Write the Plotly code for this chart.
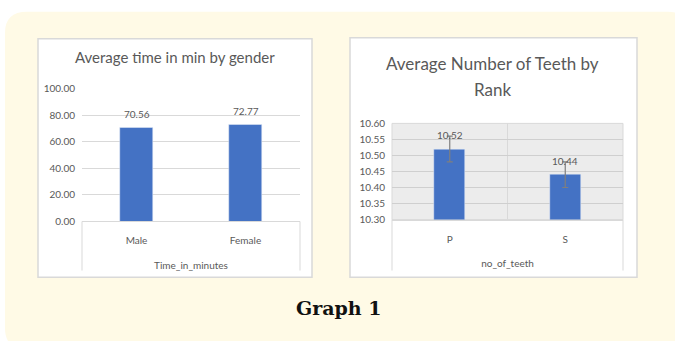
import plotly.graph_objects as go

W, H = 675, 341

# ---- data ----
gender_categories = ["Male", "Female"]
gender_time = [70.56, 72.77]
rank_categories = ["P", "S"]
rank_teeth = [10.52, 10.44]
rank_err = [0.04, 0.04]
left_ticks = [0, 20, 40, 60, 80, 100]
right_ticks = [10.30, 10.35, 10.40, 10.45, 10.50, 10.55, 10.60]

BAR = "#4472c4"
GRID = "#d9d9d9"
TXT = "#595959"
FONT = "Lato"


def px(x):
    return x / W


def py(y):
    return 1 - y / H


fig = go.Figure()

fig.add_trace(go.Bar(
    x=gender_categories, y=gender_time, marker_color=BAR, width=0.31,
    xaxis="x", yaxis="y", showlegend=False))

fig.add_trace(go.Bar(
    x=rank_categories, y=rank_teeth, marker_color=BAR, width=0.27,
    error_y=dict(type="data", array=rank_err, color="#7f7f7f", thickness=1.2, width=3),
    xaxis="x2", yaxis="y2", showlegend=False))

shapes = []
# cream rounded background
r = 22
x0, y0, x1, y1 = 5, 5, 690, 356
path = (f"M {px(x0 + r)} {py(y0)} L {px(x1 - r)} {py(y0)} "
        f"Q {px(x1)} {py(y0)} {px(x1)} {py(y0 + r)} L {px(x1)} {py(y1 - r)} "
        f"Q {px(x1)} {py(y1)} {px(x1 - r)} {py(y1)} L {px(x0 + r)} {py(y1)} "
        f"Q {px(x0)} {py(y1)} {px(x0)} {py(y1 - r)} L {px(x0)} {py(y0 + r)} "
        f"Q {px(x0)} {py(y0)} {px(x0 + r)} {py(y0)} Z")
shapes.append(dict(type="path", path=path, xref="paper", yref="paper",
                   fillcolor="#fffae6", line=dict(width=0), layer="below"))
# white panels
for (a, b, c, d) in [(38, 33, 312, 281), (350, 32, 637, 281)]:
    shapes.append(dict(type="rect", xref="paper", yref="paper",
                       x0=px(a), x1=px(c), y0=py(b), y1=py(d),
                       fillcolor="white", line=dict(color=GRID, width=1.5), layer="below"))
# hatched-looking plot area (right)
shapes.append(dict(type="rect", xref="x2 domain", yref="y2 domain", x0=0, x1=1, y0=0, y1=1,
                   fillcolor="#ececec", line=dict(color=GRID, width=1), layer="below"))
# middle vertical gridline right
shapes.append(dict(type="line", xref="x2 domain", yref="y2 domain", x0=0.5, x1=0.5, y0=0, y1=1,
                   line=dict(color=GRID, width=1), layer="below"))
# category axis box lines
for ax, (l, rr) in [("x", (82, 300)), ("x2", (392, 623))]:
    for xx in (l, rr):
        shapes.append(dict(type="line", xref="paper", yref="paper",
                           x0=px(xx), x1=px(xx), y0=py(223 if ax == "x" else 221), y1=py(274),
                           line=dict(color=GRID, width=1)))

annotations = [
    dict(text="Average time in min by gender", x=px(175), y=py(52), xref="paper", yref="paper",
         showarrow=False, font=dict(size=15, color=TXT, family=FONT), xanchor="center", yanchor="middle"),
    dict(text="Average Number of Teeth by", x=px(492), y=py(59), xref="paper", yref="paper",
         showarrow=False, font=dict(size=17, color=TXT, family=FONT), xanchor="center", yanchor="middle"),
    dict(text="Rank", x=px(492), y=py(86), xref="paper", yref="paper",
         showarrow=False, font=dict(size=17, color=TXT, family=FONT), xanchor="center", yanchor="middle"),
    dict(text="<b>Graph 1</b>", x=px(338), y=py(313), xref="paper", yref="paper",
         showarrow=False, font=dict(size=19, color="#111111", family="DejaVu Serif"),
         xanchor="center", yanchor="middle"),
]
for c, v in zip(gender_categories, gender_time):
    annotations.append(dict(text=f"{v:.2f}", x=c, y=v, xref="x", yref="y", showarrow=False,
                            yanchor="bottom", yshift=6, font=dict(size=10, color=TXT, family=FONT)))
for c, v in zip(rank_categories, rank_teeth):
    annotations.append(dict(text=f"{v:.2f}", x=c, y=v, xref="x2", yref="y2", showarrow=False,
                            yanchor="bottom", yshift=6, font=dict(size=10, color=TXT, family=FONT)))

fig.update_layout(
    width=W, height=H, margin=dict(l=0, r=0, t=0, b=0),
    paper_bgcolor="white", plot_bgcolor="rgba(0,0,0,0)",
    shapes=shapes, annotations=annotations, bargap=0,
    font=dict(family=FONT, color=TXT),
    xaxis=dict(domain=[px(82), px(300)], anchor="y", showline=True, linecolor=GRID, linewidth=1,
               showgrid=False, ticks="", tickfont=dict(size=10, color=TXT), ticklabelstandoff=10,
               title=dict(text="Time_in_minutes", font=dict(size=10, color=TXT), standoff=16)),
    yaxis=dict(domain=[py(223), py(85)], anchor="x", range=[0, 100], tickvals=left_ticks,
               ticktext=[f"{v:.2f}" for v in left_ticks], showgrid=True, gridcolor=GRID,
               zeroline=False, tickfont=dict(size=10, color=TXT), ticks="", ticklabelstandoff=6),
    xaxis2=dict(domain=[px(392), px(623)], anchor="y2", showline=True, linecolor=GRID, linewidth=1,
                showgrid=False, ticks="", tickfont=dict(size=10, color=TXT), ticklabelstandoff=10,
                title=dict(text="no_of_teeth", font=dict(size=10, color=TXT), standoff=16)),
    yaxis2=dict(domain=[py(221), py(121)], anchor="x2", range=[10.30, 10.60], tickvals=right_ticks,
                ticktext=[f"{v:.2f}" for v in right_ticks], showgrid=True, gridcolor="#cfcfcf",
                zeroline=False, tickfont=dict(size=10, color=TXT), ticks="", ticklabelstandoff=6),
)

fig.write_html("out.html")
